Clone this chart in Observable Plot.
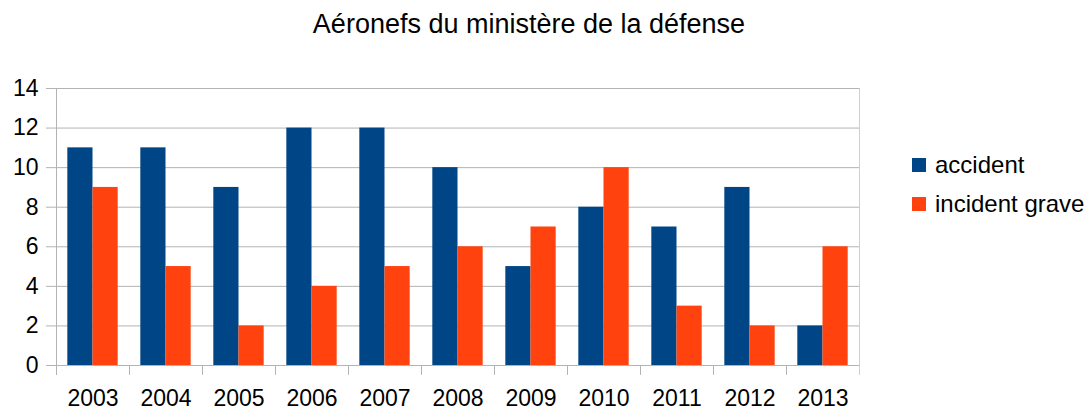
<!DOCTYPE html>
<html>
<head>
<meta charset="utf-8">
<script src="https://cdn.jsdelivr.net/npm/d3@7"></script>
<script src="https://cdn.jsdelivr.net/npm/@observablehq/plot@0.6"></script>
<style>
  html, body { margin: 0; padding: 0; background: #fff; }
  #wrap { position: relative; width: 1087px; height: 410px; font-family: "Liberation Sans", Arial, sans-serif; color: #000; }
  #title { position: absolute; left: 0; top: 8px; width: 1058px; text-align: center; font-size: 27px; line-height: 32px; }
  #legend { position: absolute; left: 912px; top: 145px; font-size: 24px; }
  .item { display: flex; align-items: center; height: 39px; }
  .sw { width: 14px; height: 14px; margin-right: 9px; }
  #chart { position: absolute; left: 0; top: 0; }
</style>
</head>
<body>
<div id="wrap">
  <div id="chart"></div>
  <div id="title"></div>
  <div id="legend"></div>
</div>
<script>
const title = "Aéronefs du ministère de la défense";
const years = ["2003","2004","2005","2006","2007","2008","2009","2010","2011","2012","2013"];
const accident = [11, 11, 9, 12, 12, 10, 5, 8, 7, 9, 2];
const incidentGrave = [9, 5, 2, 4, 5, 6, 7, 10, 3, 2, 6];
const seriesNames = ["accident", "incident grave"];
const seriesColors = ["#004586", "#ff420e"];
const yTicks = [0, 2, 4, 6, 8, 10, 12, 14];

const W = 1087, H = 410;
const mL = 56, mR = 228, mT = 88, mB = 45;
const band = (W - mL - mR) / years.length;
const outer = band * 0.155;
const barW = (band - 2 * outer) / 2;

const rows = years.map((y, i) => ({year: y, accident: accident[i], incident: incidentGrave[i]}));
const gray = "#b3b3b3";

const chart = Plot.plot({
  width: W, height: H,
  marginLeft: mL, marginRight: mR, marginTop: mT, marginBottom: mB,
  style: {fontFamily: "'Liberation Sans', Arial, sans-serif", color: "#000", background: "#fff"},
  x: {domain: years, padding: 0},
  y: {domain: [0, 14]},
  marks: [
    Plot.ruleY(yTicks, {stroke: gray, strokeWidth: 1}),
    Plot.barY(rows, {x: "year", y: "accident", fill: seriesColors[0], insetLeft: outer, insetRight: outer + barW}),
    Plot.barY(rows, {x: "year", y: "incident", fill: seriesColors[1], insetLeft: outer + barW, insetRight: outer}),
    Plot.ruleX(years, {x: d => d, dx: -band / 2, y1: 0, y2: -0.5, stroke: gray}),
    Plot.ruleX([years[0]], {x: d => d, dx: -band / 2, y1: -0.5, y2: 14, stroke: gray}),
    Plot.ruleX([years[years.length - 1]], {x: d => d, dx: band / 2, y1: -0.5, y2: 14, stroke: "#cfcfcf"}),
    Plot.ruleY([0], {stroke: gray}),
    Plot.axisY({ticks: yTicks, tickSize: 10, tickPadding: 8, fontSize: 23, stroke: gray, fill: "#000", label: null}),
    Plot.axisX({tickSize: 0, tickPadding: 24, fontSize: 23, fill: "#000", label: null})
  ]
});
document.getElementById("chart").appendChild(chart);
document.getElementById("title").textContent = title;

const legend = document.getElementById("legend");
seriesNames.forEach((name, i) => {
  const it = document.createElement("div");
  it.className = "item";
  const sw = document.createElement("div");
  sw.className = "sw";
  sw.style.background = seriesColors[i];
  const t = document.createElement("span");
  t.textContent = name;
  it.appendChild(sw);
  it.appendChild(t);
  legend.appendChild(it);
});
</script>
</body>
</html>
